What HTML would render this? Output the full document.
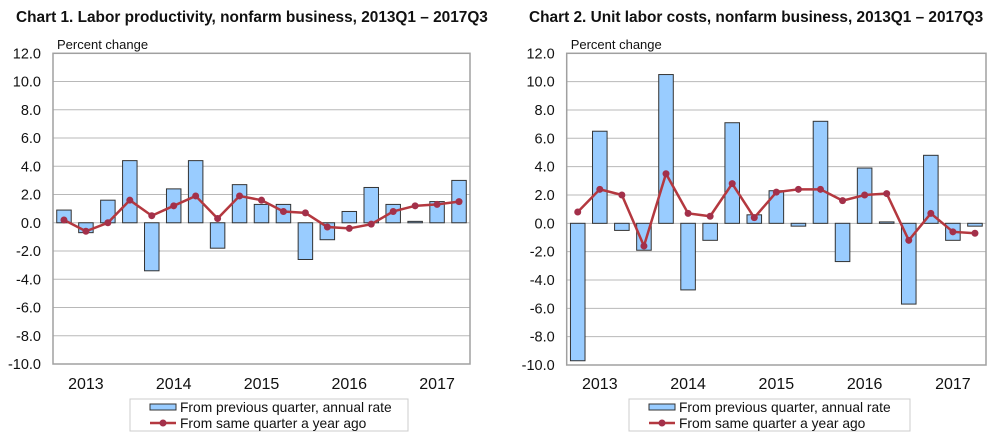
<!DOCTYPE html>
<html><head><meta charset="utf-8"><style>
html,body{margin:0;padding:0;background:#fff;}
svg{display:block;font-family:"Liberation Sans",Arial,sans-serif;}
</style></head><body>
<svg id="s" width="1000" height="442" viewBox="0 0 1000 442"></svg>
<script>
const quarters = ["2013Q1","2013Q2","2013Q3","2013Q4","2014Q1","2014Q2","2014Q3","2014Q4","2015Q1","2015Q2","2015Q3","2015Q4","2016Q1","2016Q2","2016Q3","2016Q4","2017Q1","2017Q2","2017Q3"];
const years = ["2013","2014","2015","2016","2017"];
const yTicks = [12,10,8,6,4,2,0,-2,-4,-6,-8,-10];
const prodPrev = [0.9,-0.7,1.6,4.4,-3.4,2.4,4.4,-1.8,2.7,1.3,1.3,-2.6,-1.2,0.8,2.5,1.3,0.1,1.5,3.0];
const prodYear = [0.2,-0.6,0.0,1.6,0.5,1.2,1.9,0.3,1.9,1.6,0.8,0.7,-0.3,-0.4,-0.1,0.8,1.2,1.3,1.5];
const ulcPrev = [-9.7,6.5,-0.5,-1.9,10.5,-4.7,-1.2,7.1,0.6,2.3,-0.2,7.2,-2.7,3.9,0.1,-5.7,4.8,-1.2,-0.2];
const ulcYear = [0.8,2.4,2.0,-1.6,3.5,0.7,0.5,2.8,0.4,2.2,2.4,2.4,1.6,2.0,2.1,-1.2,0.7,-0.6,-0.7];

const svg = document.getElementById('s');
const NS = 'http://www.w3.org/2000/svg';
function mk(tag, attrs, parent, text){
  const e = document.createElementNS(NS, tag);
  for (const k in attrs) e.setAttribute(k, attrs[k]);
  if (text !== undefined) e.textContent = text;
  (parent || svg).appendChild(e);
  return e;
}
function chart(o){
  const g = mk('g', {});
  
  
  const y = v => o.top + (12 - v) * (o.bottom - o.top) / 22;
  const slot = (o.right - o.left) / quarters.length;
  const x = i => o.left + slot * (i + 0.5);
  const t = mk('text', {x:o.titleX, y:22, 'font-size':15.4, 'font-weight':'bold', fill:'#111'}, g, o.title);
  
  
  const pc = mk('text', {x:o.left+4, y:49, 'font-size':13, fill:'#111'}, g, 'Percent change');
  
  
  yTicks.forEach(v => {
    if (v !== 12 && v !== -10) {
      const gl = mk('line', {x1:o.left, x2:o.right, y1:y(v), y2:y(v), stroke:'#b8b8b8', 'stroke-width':1}, g);
      
      
    }
    const tl = mk('text', {x:o.left-12, y:y(v)+5, 'font-size':14.5, 'text-anchor':'end', fill:'#111'}, g, v.toFixed(1));
    
    
  });
  const fr = mk('rect', {x:o.left, y:o.top, width:o.right-o.left, height:o.bottom-o.top, fill:'none', stroke:'#a0a0a0', 'stroke-width':1.5}, g);
  
  
  o.prev.forEach((v, i) => {
    const bw = slot * 0.66;
    const b = mk('rect', {x:x(i)-bw/2, y:Math.min(y(v), y(0)), width:bw, height:Math.max(Math.abs(y(v)-y(0)),0.8), fill:'#99ccff', stroke:'#333', 'stroke-width':1}, g);
    
    
  });
  const pts = o.yr.map((v, i) => x(i) + ',' + y(v)).join(' ');
  const pl = mk('polyline', {points:pts, fill:'none', stroke:'#b4383f', 'stroke-width':2.5}, g);
  
  
  o.yr.forEach((v, i) => {
    const c = mk('circle', {cx:x(i), cy:y(v), r:3.5, fill:'#a3304a'}, g);
    
    
  });
  years.forEach((yrs, j) => {
    const xl = mk('text', {x:x(j*4+1), y:389, 'font-size':16, 'text-anchor':'middle', fill:'#111'}, g, yrs);
    
    
  });
  const lg = mk('g', {}, g);
  
  
  mk('rect', {x:o.legX, y:399, width:o.legW, height:32, fill:'#fff', stroke:'#ccc', 'stroke-width':1}, lg);
  const sw = mk('rect', {x:o.legX+20, y:404, width:26, height:6, fill:'#99ccff', stroke:'#333', 'stroke-width':1}, lg);
  
  
  const l1 = mk('text', {x:o.legX+50, y:412, 'font-size':13.8, fill:'#111'}, lg, 'From previous quarter, annual rate');
  
  
  mk('line', {x1:o.legX+20, x2:o.legX+46, y1:423, y2:423, stroke:'#b4383f', 'stroke-width':2.5}, lg);
  mk('circle', {cx:o.legX+33, cy:423, r:3.5, fill:'#a3304a'}, lg);
  const l2 = mk('text', {x:o.legX+50, y:428, 'font-size':13.8, fill:'#111'}, lg, 'From same quarter a year ago');
  
  
}
chart({name:'labor-productivity-chart', title:'Chart  1. Labor productivity, nonfarm business, 2013Q1 \u2013 2017Q3', titleX:16, left:53, right:470, top:53.3, bottom:364, prev:prodPrev, yr:prodYear, legX:130, legW:278});
chart({name:'unit-labor-costs-chart', title:'Chart  2. Unit labor costs, nonfarm business, 2013Q1 \u2013 2017Q3', titleX:529, left:566.7, right:986, top:53.3, bottom:365, prev:ulcPrev, yr:ulcYear, legX:629, legW:281});
</script>
</body></html>
